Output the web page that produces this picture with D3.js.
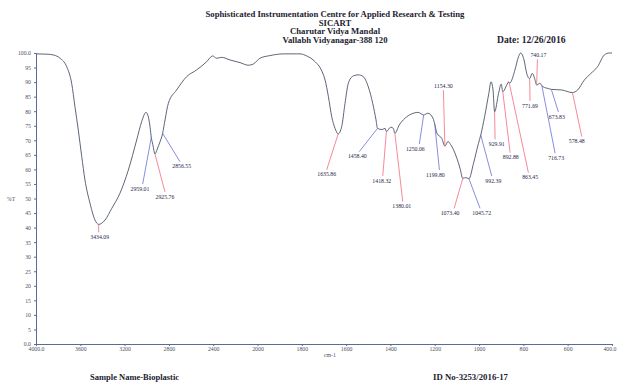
<!DOCTYPE html>
<html>
<head>
<meta charset="utf-8">
<script src="https://cdn.jsdelivr.net/npm/d3@7"></script>
<style>
    body { margin: 0; background: #fff; }
    svg { display: block; }
</style>
</head>
<body>
<div class="spectrumDiv"></div>
<script>
"use strict";

//
/* Data: */
//

// Spectrum trace, wavenumber (cm-1) vs %T
var wavenumbers = [
    4000, 3900, 3840, 3783, 3723, 3678, 3648, 3618, 3587, 3558, 3512, 3467, 3434.09, 3377, 3316, 3242,
    3166, 3091, 3046, 3007, 2986, 2970, 2959.01, 2945, 2925.76, 2905, 2880, 2856.55, 2835, 2805, 2730,
    2639, 2549, 2459, 2405, 2369, 2323, 2248, 2158, 2083, 2038, 1989, 1944, 1884, 1824, 1808, 1778,
    1740, 1712, 1695, 1680, 1665, 1650, 1635.86, 1620, 1605, 1590, 1568, 1545, 1523, 1500, 1480, 1465,
    1458.40, 1439, 1424, 1418.32, 1399, 1387, 1380.01, 1360, 1334, 1306, 1275, 1250.06, 1231, 1208,
    1199.80, 1190, 1168, 1154.30, 1140, 1128, 1115, 1100, 1086, 1073.40, 1060, 1045.72, 1025, 1003,
    992.39, 975, 956, 946, 937, 929.91, 912, 900, 892.88, 875, 866, 863.45, 857, 838, 822, 812, 797,
    785, 771.69, 760, 749, 740.17, 725, 716.73, 711, 688, 673.83, 627, 578.48, 555, 525, 495, 465,
    435, 412, 400
];
var transmittance = [
    99.7, 99.6, 99.3, 98.2, 95.3, 89.6, 81.5, 73.5, 64.4, 56.4, 48.3, 42.6, 41.1, 42.6, 46.6, 51.8,
    59.8, 70.1, 76.4, 79.6, 78.1, 74.5, 71.0, 68.5, 65.3, 67.0, 69.5, 72.4, 77.0, 82.7, 87.3,
    91.9, 94.2, 97.0, 99.0, 98.2, 98.5, 97.6, 96.7, 95.8, 96.2, 98.2, 99.1, 99.7, 99.7, 99.7, 99.0,
    97.0, 94.2, 90.7, 85.0, 78.1, 74.1, 72.2, 74.7, 82.7, 89.6, 92.1, 92.5, 91.9, 88.4, 82.7, 77.0,
    74.1, 73.7, 74.1, 73.0, 74.5, 74.1, 72.4, 75.3, 77.6, 79.0, 79.6, 78.7, 79.3, 77.6,
    75.5, 72.4, 70.6, 68.0, 69.6, 68.5, 66.7, 63.8, 60.4, 56.9, 57.2, 56.8, 62.1, 68.9,
    71.8, 78.1, 86.1, 90.1, 87.3, 79.8, 86.1, 89.3, 86.7, 89.0, 90.1, 89.6, 90.0, 94.2, 98.7, 100.0, 97.6,
    93.0, 91.2, 93.0, 91.2, 89.0, 89.6, 88.8, 88.4, 87.8, 87.5, 87.3, 86.4, 87.3, 90.7, 93.0, 95.3,
    99.3, 100.0, 100.0
];

// Labelled peaks
var peakWavenumbers = [
    3434.09, 2959.01, 2925.76, 2856.55, 1635.86, 1458.40, 1418.32, 1380.01, 1250.06, 1199.80, 1154.30,
    1073.40, 1045.72, 992.39, 929.91, 892.88, 863.45, 771.69, 740.17, 716.73, 673.83, 578.48
];
var peakTransmittance = [
    41.1, 71.0, 65.3, 72.4, 72.2, 74.1, 73.0, 72.4, 78.7, 75.5, 68.0,
    56.9, 56.8, 71.8, 79.8, 86.7, 89.6, 91.2, 89.0, 88.8, 87.5, 86.4
];
var peakLabels = [
    "3434.09", "2959.01", "2925.76", "2856.55", "1635.86", "1458.40", "1418.32", "1380.01", "1250.06",
    "1199.80", "1154.30", "1073.40", "1045.72", "992.39", "929.91", "892.88", "863.45", "771.69",
    "740.17", "716.73", "673.83", "578.48"
];
// 0 = red marker, 1 = blue marker
var peakGroup = [0, 1, 0, 1, 0, 1, 0, 0, 1, 1, 0, 0, 1, 1, 0, 0, 0, 0, 0, 1, 1, 0];

// Axis ticks
var xTicks = [4000, 3600, 3200, 2800, 2400, 2000, 1800, 1600, 1400, 1200, 1000, 800, 600, 400];
var yTicks = [0, 5, 10, 15, 20, 25, 30, 35, 40, 45, 50, 55, 60, 65, 70, 75, 80, 85, 90, 95, 100];


//
/* Layout: */
//

var width = 617;
var height = 387;

// leader line end relative to the peak point, plus a small text nudge [dx, dy, textDx]
var labelOffsets = [
    [0, 8, 1], [-8.6, 46.6, -2.7], [10, 38, 0], [17.4, 28.4, 1.7], [-11.5, 36, 0], [-18.2, 23.3, -2],
    [-3.6, 44.4, -1], [7.9, 68.4, -1], [-4.3, 29, -4], [4.6, 45.7, -4], [-1.5, -56, 0],
    [-8.7, 30, -4], [11.1, 29.6, 1.7], [11, 41, 1.6], [0.5, 27.5, 1.7], [7.3, 61, 0.7], [19.1, 89.4, 1.7],
    [0.4, 22.4, 0], [0.8, -25.7, 1], [13.3, 67.7, 1], [7.1, 22.6, -1.6], [9.3, 44, -5]
];

var groupColors = ["#f26b82", "#6b6fd6"];

// FTIR axis: scale doubles below 2000 cm-1
var x = d3.scaleLinear()
    .domain([4000, 2000, 400])
    .range([36, 257.5, 612]);

var y = d3.scaleLinear()
    .domain([0, 100])
    .range([344, 53]);

var svg = d3.select(".spectrumDiv").append("svg")
    .attr("width", width)
    .attr("height", height)
    .style("font-family", "'Liberation Serif', 'DejaVu Serif', serif");


//
/* Header / footer text: */
//

var header = [
    ["Sophisticated Instrumentation Centre for Applied Research & Testing", 14],
    ["SICART", 22.5],
    ["Charutar Vidya Mandal", 31],
    ["Vallabh Vidyanagar-388 120", 39.5]
];

svg.selectAll(".header")
    .data(header).enter()
    .append("text")
    .attr("class", "header")
    .attr("x", 335)
    .attr("y", function(d) { return d[1]; })
    .attr("dy", "0.35em")
    .attr("text-anchor", "middle")
    .attr("font-size", 8.7)
    .attr("font-weight", "bold")
    .attr("fill", "#1c1c30")
    .text(function(d) { return d[0]; });

svg.append("text")
    .attr("x", 497).attr("y", 39.5).attr("dy", "0.35em")
    .attr("font-size", 9.6).attr("font-weight", "bold").attr("fill", "#1c1c30")
    .text("Date: 12/26/2016");

svg.append("text")
    .attr("x", 90).attr("y", 377).attr("dy", "0.35em")
    .attr("font-size", 8.5).attr("font-weight", "bold").attr("fill", "#1c1c30")
    .text("Sample Name-Bioplastic");

svg.append("text")
    .attr("x", 433).attr("y", 377).attr("dy", "0.35em")
    .attr("font-size", 8.8).attr("font-weight", "bold").attr("fill", "#1c1c30")
    .text("ID No-3253/2016-17");


//
/* Axes: */
//

var xAxis = d3.axisBottom(x)
    .tickValues(xTicks)
    .tickSize(2)
    .tickSizeOuter(0)
    .tickPadding(1)
    .tickFormat(function(d) { return (d == 4000 || d == 400) ? d.toFixed(1) : d; });

var yAxis = d3.axisLeft(y)
    .tickValues(yTicks)
    .tickSize(2)
    .tickSizeOuter(0)
    .tickPadding(3)
    .tickFormat(function(d) { return (d == 0 || d == 100) ? d.toFixed(1) : d; });

var gx = svg.append("g")
    .attr("transform", "translate(0," + y(0) + ")")
    .call(xAxis);

var gy = svg.append("g")
    .attr("transform", "translate(" + x(4000) + ",0)")
    .call(yAxis);

[gx, gy].forEach(function(g)
{
    g.select(".domain").attr("stroke", "#5c6a96");
    g.selectAll(".tick line").attr("stroke", "#5c6a96");
    g.selectAll(".tick text")
        .attr("fill", "#4c5262")
        .attr("font-size", 5.8)
        .attr("font-family", "'Liberation Serif', serif");
});

// last x label sits at the page edge; keep it inside
gx.selectAll(".tick text")
    .filter(function(d) { return d == 400; })
    .attr("text-anchor", "end")
    .attr("x", 4);

svg.append("text")
    .attr("x", 330).attr("y", 355).attr("dy", "0.35em")
    .attr("text-anchor", "middle")
    .attr("font-size", 5.8).attr("fill", "#4c5262")
    .text("cm-1");

svg.append("text")
    .attr("x", 11).attr("y", 199).attr("dy", "0.35em")
    .attr("text-anchor", "middle")
    .attr("font-size", 5.8).attr("fill", "#4c5262")
    .text("%T");


//
/* Spectrum: */
//

var points = wavenumbers.map(function(w, i) { return [w, transmittance[i]]; });

var line = d3.line()
    .x(function(d) { return x(d[0]); })
    .y(function(d) { return y(d[1]); })
    .curve(d3.curveMonotoneX);

svg.append("path")
    .datum(points)
    .attr("fill", "none")
    .attr("stroke", "#4b5565")
    .attr("stroke-width", 0.9)
    .attr("d", line);


//
/* Peak markers: */
//

var peaks = peakWavenumbers.map(function(w, i)
{
    return { w: w, t: peakTransmittance[i], label: peakLabels[i], group: peakGroup[i], off: labelOffsets[i] };
});

var peakG = svg.selectAll(".peak")
    .data(peaks).enter()
    .append("g")
    .attr("class", "peak");

peakG.append("line")
    .attr("x1", function(d) { return x(d.w); })
    .attr("y1", function(d) { return y(d.t); })
    .attr("x2", function(d) { return x(d.w) + d.off[0]; })
    .attr("y2", function(d) { return y(d.t) + d.off[1]; })
    .attr("stroke", function(d) { return groupColors[d.group]; })
    .attr("stroke-width", 0.8);

peakG.append("text")
    .attr("x", function(d) { return x(d.w) + d.off[0] + d.off[2]; })
    .attr("y", function(d) { return y(d.t) + d.off[1] + (d.off[1] < 0 ? -4 : 4.5); })
    .attr("dy", "0.35em")
    .attr("text-anchor", "middle")
    .attr("font-size", 5.8)
    .attr("fill", "#25264a")
    .text(function(d) { return d.label; });
</script>
</body>
</html>
